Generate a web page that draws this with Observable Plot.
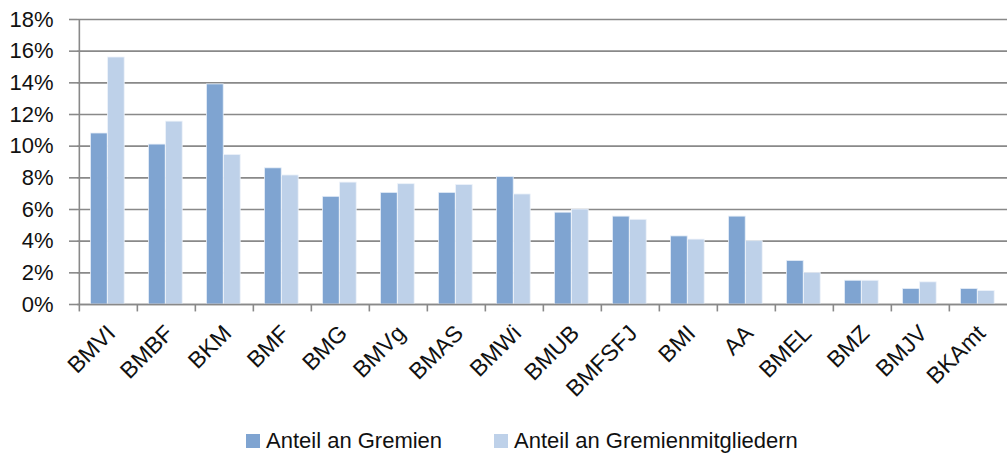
<!DOCTYPE html>
<html>
<head>
<meta charset="utf-8">
<script src="https://cdn.jsdelivr.net/npm/d3@7"></script>
<script src="https://cdn.jsdelivr.net/npm/@observablehq/plot@0.6"></script>
<style>
  html, body { margin: 0; padding: 0; background: #fff; }
  #wrap { position: relative; width: 1007px; height: 457px; overflow: hidden; font-family: "Liberation Sans", Arial, sans-serif; }
  #legend { position: absolute; top: 428px; left: 246px; display: flex; align-items: center; font-size: 22px; color: #111; }
  .item { display: flex; align-items: center; }
  .sw { width: 14px; height: 14px; margin-right: 6px; }
</style>
</head>
<body>
<div id="wrap"><div id="chart"></div><div id="legend"></div></div>
<script>
const categories = ["BMVI","BMBF","BKM","BMF","BMG","BMVg","BMAS","BMWi","BMUB","BMFSFJ","BMI","AA","BMEL","BMZ","BMJV","BKAmt"];
const seriesNames = ["Anteil an Gremien", "Anteil an Gremienmitgliedern"];
const anteilGremien = [10.8, 10.1, 13.9, 8.6, 6.8, 7.05, 7.05, 8.05, 5.8, 5.55, 4.3, 5.55, 2.75, 1.5, 0.98, 0.98];
const anteilMitglieder = [15.6, 11.55, 9.45, 8.15, 7.7, 7.6, 7.55, 6.95, 6.0, 5.35, 4.1, 4.0, 2.0, 1.5, 1.4, 0.85];
const yTicks = [0, 2, 4, 6, 8, 10, 12, 14, 16, 18];
const colors = ["#7fa4d1", "#bed1e9"];

const W = 1007, ML = 77, MR = -2.8;
const bw = (W - ML - MR) / categories.length;

const rows1 = categories.map((c, i) => ({cat: c, v: anteilGremien[i]}));
const rows2 = categories.map((c, i) => ({cat: c, v: anteilMitglieder[i]}));

const chart = Plot.plot({
  width: W,
  height: 410,
  marginLeft: ML,
  marginRight: MR,
  marginTop: 19,
  marginBottom: 106,
  style: {fontFamily: '"Liberation Sans", Arial, sans-serif', color: "#111", background: "#fff"},
  x: {domain: categories, padding: 0, label: null},
  y: {domain: [0, 18], label: null},
  marks: [
    Plot.ruleY(yTicks, {stroke: "#898989", strokeWidth: 1.6}),
    Plot.barY(rows1, {x: "cat", y: "v", fill: colors[0], insetLeft: 11.5, insetRight: bw - 28.5, stroke: "#e6eef8", strokeWidth: 0.8}),
    Plot.barY(rows2, {x: "cat", y: "v", fill: colors[1], insetLeft: 28.5, insetRight: bw - 45.5, stroke: "#eef3fa", strokeWidth: 0.8}),
    Plot.ruleX(categories.slice(0, 1), {x: d => d, dx: -bw / 2, y1: 0, y2: 18, stroke: "#898989", strokeWidth: 1.6}),
    Plot.ruleX(categories, {x: d => d, dx: -bw / 2, y1: -0.47, y2: 0, stroke: "#898989", strokeWidth: 1.6}),
    Plot.ruleY([0], {stroke: "#898989", strokeWidth: 1.6}),
    Plot.axisY({ticks: yTicks, tickFormat: d => d + "%", tickSize: 8, tickPadding: 16, stroke: "#898989", strokeWidth: 1.6, fontSize: 22, label: null}),
    Plot.axisX({tickSize: 0, tickRotate: -45, tickPadding: 25, dx: 3, fontSize: 23, label: null})
  ]
});
document.getElementById("chart").appendChild(chart);

const legend = document.getElementById("legend");
seriesNames.forEach((name, i) => {
  const it = document.createElement("div");
  it.className = "item";
  it.style.marginRight = i === 0 ? "52px" : "0";
  const sw = document.createElement("span");
  sw.className = "sw";
  sw.style.background = colors[i];
  const t = document.createElement("span");
  t.textContent = name;
  it.appendChild(sw); it.appendChild(t);
  legend.appendChild(it);
});
</script>
</body>
</html>
